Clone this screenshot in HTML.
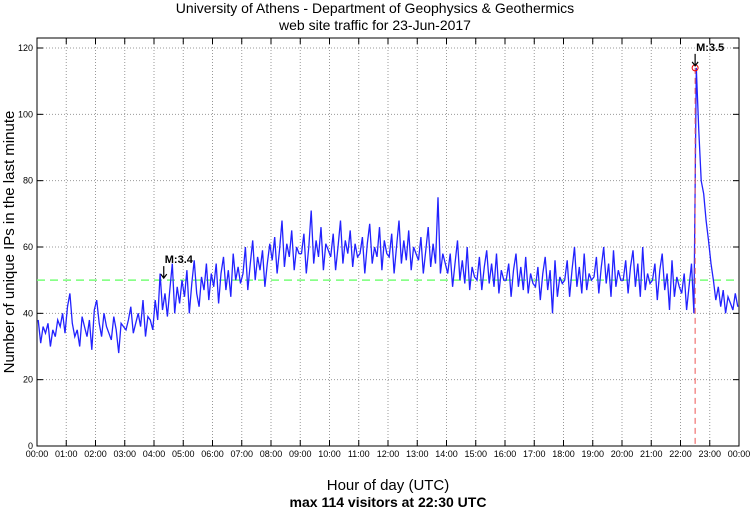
<!DOCTYPE html>
<html><head><meta charset="utf-8"><style>
body{margin:0;background:#fff;}
svg{display:block;font-family:"Liberation Sans",sans-serif;}
</style></head><body>
<svg id="chart" width="750" height="511">
<text x="375" y="13" text-anchor="middle" font-size="14">University of Athens - Department of Geophysics &amp; Geothermics</text>
<text x="375" y="30" text-anchor="middle" font-size="14">web site traffic for 23-Jun-2017</text>
<g id="grid"></g>
<g id="axes"></g>
<g id="series"></g>
<text transform="translate(14,242) rotate(-90)" text-anchor="middle" font-size="15">Number of unique IPs in the last minute</text>
<text x="388" y="490" text-anchor="middle" font-size="15">Hour of day (UTC)</text>
<text x="388" y="507" text-anchor="middle" font-size="14" font-weight="bold">max 114 visitors at 22:30 UTC</text>
</svg>
<script>
const hourLabels=["00:00","01:00","02:00","03:00","04:00","05:00","06:00","07:00","08:00","09:00","10:00","11:00","12:00","13:00","14:00","15:00","16:00","17:00","18:00","19:00","20:00","21:00","22:00","23:00","00:00"];
const yTicks=[0,20,40,60,80,100,120];
const avgLevel=50;
const peakMinute=1350;
const peakValue=114;
const quakes=[{label:"M:3.4",minute:260,value:50},{label:"M:3.5",minute:1350,value:114}];
const visits=[
38,31,36,34,37,30,35,33,38,36,40,34,
42,46,37,33,35,30,39,36,33,38,29,41,
44,37,33,40,36,34,32,39,35,28,37,36,
35,38,42,34,37,40,36,44,33,39,38,35,
44,38,52,41,46,39,47,55,40,48,43,50,
45,53,40,49,56,46,42,51,47,55,44,52,
48,55,43,52,57,47,53,45,58,50,54,49,
52,60,47,55,62,50,57,53,59,48,55,61,
56,63,52,59,68,54,61,57,65,53,60,58,
58,64,52,60,71,55,62,57,66,53,61,59,
57,64,53,60,68,55,62,58,65,54,61,57,
58,63,52,61,67,55,60,57,66,53,62,58,
57,64,52,60,68,55,62,56,65,53,60,58,
56,63,52,59,66,54,61,55,75,52,58,55,
52,58,48,55,62,50,56,49,60,47,54,51,
50,57,47,54,59,49,55,48,58,46,53,50,
50,55,45,53,58,48,54,47,57,46,52,49,
48,54,44,52,57,47,53,40,56,45,51,49,
50,56,45,53,60,48,54,46,58,47,52,50,
51,57,46,54,60,49,55,45,59,48,53,50,
50,56,46,54,59,48,55,45,60,47,52,49,
50,55,44,53,58,47,52,41,56,45,51,48,
46,52,41,48,55,40,114,95,80,76,68,62,
55,50,44,48,42,47,40,45,43,41,46,42];
const L=37,R=739,T=38,B=446,Y0=446,Y120=48;
const xs=m=>L+(R-L)*m/1440;
const ys=v=>Y0-(Y0-Y120)*v/120;
const NS="http://www.w3.org/2000/svg";
function mk(tag,attrs,parent){const e=document.createElementNS(NS,tag);for(const k in attrs)e.setAttribute(k,attrs[k]);parent.appendChild(e);return e;}
const grid=document.getElementById('grid'),axes=document.getElementById('axes'),series=document.getElementById('series');
hourLabels.forEach((h,i)=>{const x=xs(i*60);
 if(i>0&&i<24){const g=mk('line',{x1:x,x2:x,y1:T,y2:B,stroke:'#999','stroke-dasharray':'1,2'},grid);}
 const t1=mk('line',{x1:x,x2:x,y1:B,y2:B-6,stroke:'#000'},axes);
 const t2=mk('line',{x1:x,x2:x,y1:T,y2:T+6,stroke:'#000'},axes);
 const tx=mk('text',{x:x,y:457,'text-anchor':'middle','font-size':'9'},axes);tx.textContent=h;});
yTicks.forEach(v=>{const y=ys(v);
 if(v>0){const g=mk('line',{x1:L,x2:R,y1:y,y2:y,stroke:'#999','stroke-dasharray':'1,2'},grid);}
 const t1=mk('line',{x1:L,x2:L+6,y1:y,y2:y,stroke:'#000'},axes);
 const t2=mk('line',{x1:R,x2:R-6,y1:y,y2:y,stroke:'#000'},axes);
 const tx=mk('text',{x:L-4,y:y+3,'text-anchor':'end','font-size':'9'},axes);tx.textContent=v;});
const frame=mk('rect',{x:L,y:T,width:R-L,height:B-T,fill:'none',stroke:'#000'},axes);


const avg=mk('line',{x1:L,x2:R,y1:ys(avgLevel),y2:ys(avgLevel),stroke:'#7f7','stroke-width':1.5,'stroke-dasharray':'8,5'},series);


const step=1440/visits.length;
const pts=visits.map((v,i)=>xs(i*step+step/2).toFixed(1)+','+ys(v).toFixed(1)).join(' ');
const line=mk('polyline',{points:pts,fill:'none',stroke:'#22f','stroke-width':1.3},series);


const vl=mk('line',{x1:xs(peakMinute),x2:xs(peakMinute),y1:ys(peakValue),y2:B,stroke:'#e55','stroke-dasharray':'6,4'},series);


const pc=mk('circle',{cx:xs(peakMinute),cy:ys(peakValue),r:3,fill:'none',stroke:'#e00'},series);


quakes.forEach(q=>{const x=xs(q.minute),y=ys(q.value);
 const tx=mk('text',{x:x+1,y:y-17,'font-size':'11','font-weight':'bold'},series);tx.textContent=q.label;
 const a=mk('path',{d:`M${x},${y-14}V${y-2}M${x-3},${y-6}L${x},${y-2}L${x+3},${y-6}`,fill:'none',stroke:'#000','stroke-width':1.2},series);});
</script>
</body></html>
